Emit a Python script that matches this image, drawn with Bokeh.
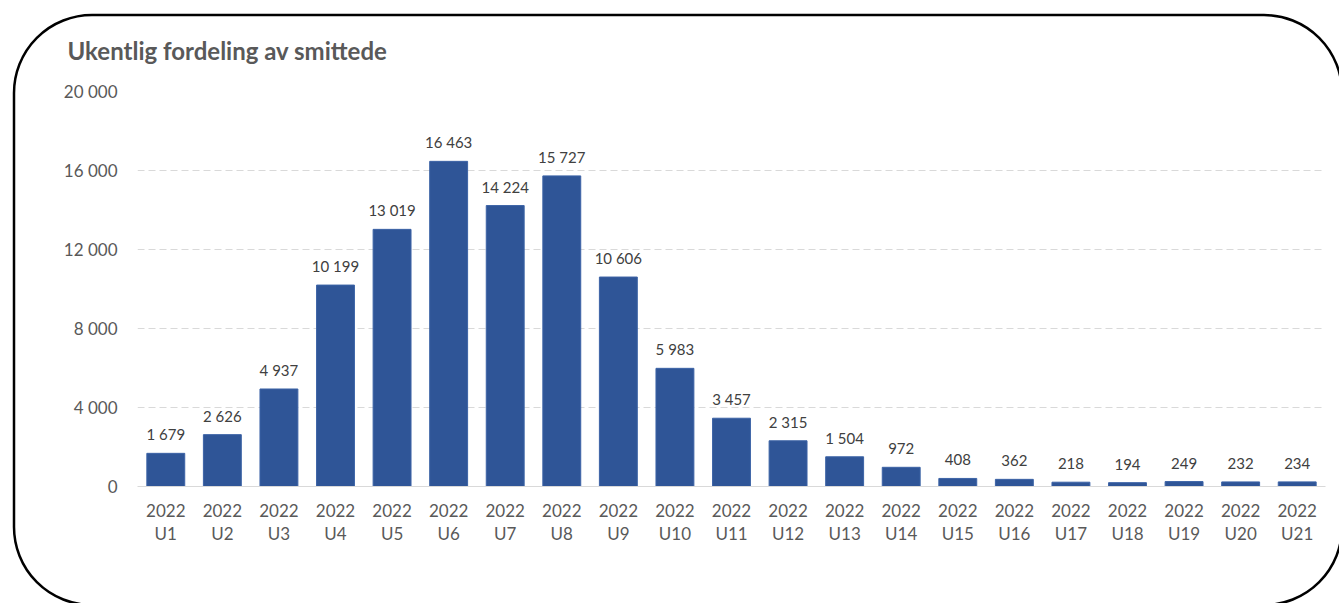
from bokeh.plotting import figure
from bokeh.models import ColumnDataSource, FixedTicker, LabelSet
from bokeh.core.properties import value
from bokeh.embed import file_html
from bokeh.resources import INLINE

title_text = "Ukentlig fordeling av smittede"
weeks = ["2022\nU1", "2022\nU2", "2022\nU3", "2022\nU4", "2022\nU5", "2022\nU6", "2022\nU7",
         "2022\nU8", "2022\nU9", "2022\nU10", "2022\nU11", "2022\nU12", "2022\nU13", "2022\nU14",
         "2022\nU15", "2022\nU16", "2022\nU17", "2022\nU18", "2022\nU19", "2022\nU20", "2022\nU21"]
cases = [1679, 2626, 4937, 10199, 13019, 16463, 14224, 15727, 10606, 5983, 3457,
         2315, 1504, 972, 408, 362, 218, 194, 249, 232, 234]
y_ticks = [0, 4000, 8000, 12000, 16000, 20000]
y_tick_labels = ["0", "4 000", "8 000", "12 000", "16 000", "20 000"]


def fmt(v):
    return f"{v:,}".replace(",", " ")


src = ColumnDataSource(dict(week=weeks, cases=cases, label=[fmt(v) for v in cases]))

FONT = "Lato"
GRAY = "#595959"

p = figure(x_range=weeks, y_range=(0, 20000), width=1339, height=603,
           output_backend="svg", toolbar_location=None, title=title_text,
           min_border_left=137, min_border_right=14, min_border_top=91, min_border_bottom=117)
p.outline_line_color = None
p.background_fill_color = None
p.border_fill_color = None

# rounded frame drawn behind the (transparent) canvas; its right side lies past the window
L, T, R, B, r = 14, 15, 1342, 605, 78
frame_path = (f"M{L + r},{T} H{R - r} A{r},{r} 0 0 1 {R},{T + r} "
              f"M{R},{B - r} A{r},{r} 0 0 1 {R - r},{B} H{L + r} "
              f"A{r},{r} 0 0 1 {L},{B - r} V{T + r} A{r},{r} 0 0 1 {L + r},{T}")
frame_svg = ("<svg xmlns='http://www.w3.org/2000/svg' width='1339' height='603'>"
             f"<path d='{frame_path}' fill='none' stroke='black' stroke-width='2.5'/></svg>")
p.styles = {
    "background-color": "white",
    "background-image": 'url("data:image/svg+xml;utf8,' + frame_svg + '")',
    "background-repeat": "no-repeat",
    "background-position": "0 0",
}

p.title.text_font = FONT
p.title.text_font_style = "bold"
p.title.text_font_size = "24px"
p.title.text_color = GRAY
p.title.align = "left"
p.title.offset = -70
p.title.standoff = 53

p.vbar(x="week", top="cases", width=0.67, source=src, fill_color="#2F5597",
       line_color="#3C63A6", line_width=1)

labels = LabelSet(x="week", y="cases", text="label", source=src, y_offset=13,
                  text_align="center", text_baseline="alphabetic",
                  text_font=value(FONT), text_font_size=value("15px"), text_color="#404040")
p.add_layout(labels)

# axes
p.yaxis.ticker = FixedTicker(ticks=y_ticks)
p.yaxis.major_label_overrides = {t: l for t, l in zip(y_ticks, y_tick_labels)}
p.yaxis.axis_line_color = None
p.yaxis.major_tick_line_color = None
p.yaxis.minor_tick_line_color = None
p.yaxis.major_label_standoff = 14
p.yaxis.major_label_text_font = FONT
p.yaxis.major_label_text_font_size = "17px"
p.yaxis.major_label_text_color = GRAY

p.xaxis.axis_line_color = "#D9D9D9"
p.xaxis.axis_line_width = 1
p.xaxis.major_tick_line_color = None
p.xaxis.minor_tick_line_color = None
p.xaxis.major_label_standoff = 7
p.xaxis.major_label_text_font = FONT
p.xaxis.major_label_text_font_size = "17px"
p.xaxis.major_label_text_color = GRAY
p.xaxis.major_label_text_line_height = 1.1
p.xaxis.major_label_orientation = "horizontal"

p.xgrid.grid_line_color = None
p.ygrid.grid_line_color = "#D9D9D9"
p.ygrid.grid_line_dash = "7 4"
p.ygrid.grid_line_width = 1

open("out.html", "w").write(file_html(p, INLINE))
